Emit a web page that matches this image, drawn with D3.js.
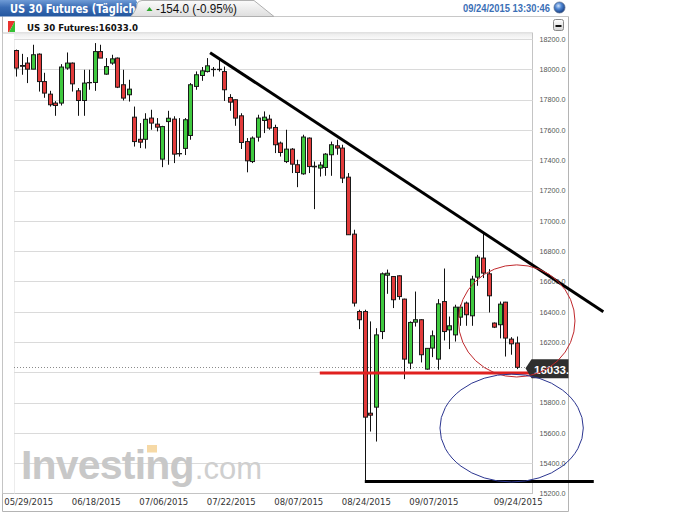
<!DOCTYPE html>
<html>
<head>
<meta charset="utf-8">
<script src="https://cdn.jsdelivr.net/npm/d3@7"></script>
<style>
  body { margin: 0; background: #fff; }
  svg { display: block; }
</style>
</head>
<body>
<div id="chart-container"></div>
<script>
// daily candles, US 30 Futures
const openP = [18124, 18025, 18041, 18001, 18100, 17919, 17836, 17777, 17777, 18008,
  18041, 17858, 17794, 17913, 17913, 18117, 17968, 18041, 18074, 17898,
  17832, 17684, 17538, 17538, 17678, 17638, 17407, 17655, 17671, 17444,
  17478, 17563, 17887, 17959, 17985, 18000, 18000, 17985, 17814, 17799,
  17693, 17523, 17391, 17552, 17662, 17671, 17616, 17513, 17391, 17473,
  17370, 17310, 17546, 17360, 17348, 17352, 17436, 17495, 17480, 17288,
  16912, 16401, 16401, 15730, 15770, 16269, 16641, 16632, 16637, 16483,
  16061, 16331, 16347, 16021, 16160, 16087, 16467, 16280, 16247, 16364,
  16457, 16373, 16628, 16754, 16650, 16325, 16314, 16463, 16219, 16193];
const highP = [18130, 18102, 18080, 18162, 18105, 17977, 17858, 17790, 18034, 18111,
  18045, 17876, 17997, 17997, 18173, 18162, 18074, 18096, 18078, 17997,
  17931, 17754, 17645, 17710, 17733, 17678, 17627, 17726, 17690, 17678,
  17678, 17909, 17986, 18015, 18074, 18015, 18074, 18018, 17836, 17800,
  17710, 17546, 17557, 17700, 17722, 17700, 17634, 17523, 17601, 17480,
  17403, 17568, 17550, 17391, 17389, 17447, 17523, 17535, 17502, 17315,
  16941, 16413, 16413, 16336, 16291, 16659, 16678, 16635, 16640, 16486,
  16336, 16533, 16350, 16160, 16276, 16483, 16685, 16368, 16446, 16446,
  16467, 16637, 16775, 16921, 16681, 16329, 16467, 16465, 16232, 16236];
const lowP = [17952, 17964, 17909, 18001, 17853, 17812, 17754, 17693, 17761, 17997,
  17853, 17693, 17693, 17865, 17858, 18074, 17964, 18030, 17876, 17794,
  17787, 17490, 17480, 17477, 17601, 17590, 17354, 17370, 17381, 17424,
  17434, 17535, 17865, 17924, 17979, 17952, 17985, 17791, 17726, 17627,
  17474, 17320, 17381, 17523, 17579, 17601, 17447, 17424, 17381, 17315,
  17222, 17304, 17315, 17077, 17292, 17297, 17297, 17436, 17249, 16908,
  16434, 16285, 15282, 15609, 15543, 16219, 16518, 16424, 16479, 15955,
  16021, 16302, 16065, 16017, 16100, 16017, 16210, 16153, 16203, 16307,
  16307, 16307, 16571, 16622, 16395, 16292, 16224, 16104, 16116, 16021];
const closeP = [18008, 18020, 18001, 18096, 17919, 17843, 17766, 17761, 18015, 18041,
  17904, 17794, 17909, 17911, 18117, 18074, 18018, 18069, 17882, 17810,
  17869, 17523, 17519, 17670, 17645, 17618, 17622, 17677, 17440, 17442,
  17667, 17898, 17964, 17990, 18023, 17998, 17998, 17865, 17783, 17678,
  17517, 17396, 17546, 17678, 17684, 17612, 17502, 17451, 17473, 17374,
  17319, 17553, 17358, 17356, 17368, 17440, 17502, 17480, 17282, 16908,
  16457, 16347, 15704, 15717, 16247, 16650, 16654, 16479, 16500, 16087,
  16329, 16347, 16116, 16158, 16241, 16452, 16269, 16307, 16430, 16430,
  16380, 16615, 16760, 16655, 16505, 16298, 16450, 16226, 16188, 16033];

const tickIndex = [2, 14, 26, 38, 50, 62, 74, 89];
const tickLabels = ["05/29/2015", "06/18/2015", "07/06/2015", "07/22/2015",
  "08/07/2015", "08/24/2015", "09/07/2015", "09/24/2015"];
const priceTicks = [15200, 15400, 15600, 15800, 16000, 16200, 16400, 16600, 16800,
  17000, 17200, 17400, 17600, 17800, 18000, 18200];
const lastPrice = 16033.0;

// hand drawn annotations, in [candle index, price]
const trendLine = [[34.5, 18110], [104.4, 16400]];
const supportLine = [[54, 15995], [91.5, 15995]];
const bottomLine = [[62, 15280], [102.7, 15280]];
const redRing = [89.0, 16339, 10.36, 370];   // cx, cy, rx (candles), ry (points)
const blueRing = [88.1, 15632, 12.74, 356];

const svgWidth = 697, svgHeight = 514;
const plot = { left: 14, right: 532.5, top: 33, bottom: 493.5, frameLeft: 2.5 };

const svg = d3.select("#chart-container").append("svg")
    .attr("width", svgWidth)
    .attr("height", svgHeight);

const defs = svg.append("defs");
const blueGrad = defs.append("linearGradient").attr("id", "blueTab").attr("x1", 0).attr("y1", 0).attr("x2", 0).attr("y2", 1);
blueGrad.append("stop").attr("offset", "0%").attr("stop-color", "#6f9bd6");
blueGrad.append("stop").attr("offset", "45%").attr("stop-color", "#3a6cb4");
blueGrad.append("stop").attr("offset", "100%").attr("stop-color", "#23579f");
const grayGrad = defs.append("linearGradient").attr("id", "grayTab").attr("x1", 0).attr("y1", 0).attr("x2", 0).attr("y2", 1);
grayGrad.append("stop").attr("offset", "0%").attr("stop-color", "#fbfbfb");
grayGrad.append("stop").attr("offset", "100%").attr("stop-color", "#dedede");
const ballGrad = defs.append("radialGradient").attr("id", "ball").attr("cx", "40%").attr("cy", "35%").attr("r", "65%");
ballGrad.append("stop").attr("offset", "0%").attr("stop-color", "#cfe2fb");
ballGrad.append("stop").attr("offset", "45%").attr("stop-color", "#4f86d2");
ballGrad.append("stop").attr("offset", "100%").attr("stop-color", "#163f86");
const topBand = defs.append("linearGradient").attr("id", "topBand").attr("x1", 0).attr("y1", 0).attr("x2", 0).attr("y2", 1);
topBand.append("stop").attr("offset", "0%").attr("stop-color", "#ececec");
topBand.append("stop").attr("offset", "100%").attr("stop-color", "#fafafa");
const btnGrad = defs.append("linearGradient").attr("id", "btn").attr("x1", 0).attr("y1", 0).attr("x2", 0).attr("y2", 1);
btnGrad.append("stop").attr("offset", "0%").attr("stop-color", "#ffffff");
btnGrad.append("stop").attr("offset", "100%").attr("stop-color", "#d4d4d4");
defs.append("clipPath").attr("id", "panelClip")
    .append("rect").attr("x", 0).attr("y", 0).attr("width", 568.5).attr("height", svgHeight);
defs.append("clipPath").attr("id", "tabClip")
    .append("rect").attr("x", 0).attr("y", 0).attr("width", 138).attr("height", 17);

// ---- panel frame ----
svg.append("path")
    .attr("d", "M2.5,16.5 V511.5 H568.5 V16.5")
    .attr("fill", "none")
    .attr("stroke", "#b4b4b4");
svg.append("line")
    .attr("x1", 270).attr("x2", 568.5).attr("y1", 16.5).attr("y2", 16.5)
    .attr("stroke", "#c8c8c8");

// ---- header tabs ----
svg.append("path")
    .attr("d", "M0,0 H136 Q141,8 139,16.5 H0 Z")
    .attr("fill", "url(#blueTab)");
svg.append("text")
    .attr("x", 10).attr("y", 13)
    .attr("clip-path", "url(#tabClip)")
    .attr("font-family", "'Liberation Sans Narrow', 'DejaVu Sans Condensed', sans-serif")
    .attr("font-weight", "bold")
    .attr("font-size", "12px")
    .attr("fill", "#fff")
    .attr("textLength", 130)
    .attr("lengthAdjust", "spacingAndGlyphs")
    .text("US 30 Futures (Täglich)");
svg.append("path")
    .attr("d", "M131,16.5 Q137,9 137,4 Q138,0.5 142,0.5 H254 L274,16.5 Z")
    .attr("fill", "url(#grayTab)")
    .attr("stroke", "#b0b0b0");
svg.append("path")
    .attr("d", "M146.5,11 L149.5,7 L152.5,11 Z")
    .attr("fill", "#2fa82f");
svg.append("text")
    .attr("x", 156).attr("y", 13)
    .attr("font-family", "'Liberation Sans', Arial, sans-serif")
    .attr("font-size", "12.5px")
    .attr("fill", "#111")
    .attr("textLength", 81)
    .attr("lengthAdjust", "spacingAndGlyphs")
    .text("-154.0 (-0.95%)");

svg.append("text")
    .attr("x", 550).attr("y", 11.5)
    .attr("text-anchor", "end")
    .attr("font-family", "'Liberation Sans', Arial, sans-serif")
    .attr("font-weight", "bold")
    .attr("font-size", "10.5px")
    .attr("fill", "#3b6fb6")
    .attr("textLength", 87)
    .attr("lengthAdjust", "spacingAndGlyphs")
    .text("09/24/2015 13:30:46");
svg.append("circle")
    .attr("cx", 559.5).attr("cy", 7.5).attr("r", 5.5)
    .attr("fill", "url(#ball)")
    .attr("stroke", "#5b6f8f")
    .attr("stroke-width", 0.8);

// minimize button
svg.append("rect")
    .attr("x", 553.5).attr("y", 19.5).attr("width", 10).attr("height", 11).attr("rx", 2)
    .attr("fill", "url(#btn)").attr("stroke", "#8a8a8a");
svg.append("rect")
    .attr("x", 555.5).attr("y", 25).attr("width", 6).attr("height", 2).attr("fill", "#111");

// ---- second row: symbol ----
svg.append("path").attr("d", "M8,21 H15 L9,32 H8 Z").attr("fill", "#e8322e");
svg.append("path").attr("d", "M15,21 V32 H9 Z").attr("fill", "#34c134");
svg.append("text")
    .attr("x", 27).attr("y", 30.5)
    .attr("font-family", "'DejaVu Sans', Tahoma, sans-serif")
    .attr("font-weight", "bold")
    .attr("font-size", "9.5px")
    .attr("fill", "#111")
    .attr("textLength", 111)
    .attr("lengthAdjust", "spacingAndGlyphs")
    .text("US 30 Futures:16033.0");

// ---- plot frame ----
svg.append("rect")
    .attr("x", plot.frameLeft).attr("y", plot.top)
    .attr("width", plot.right - plot.frameLeft).attr("height", plot.bottom - plot.top)
    .attr("fill", "#fff")
    .attr("stroke", "#c4c4c4");
svg.append("rect")
    .attr("x", plot.left).attr("y", plot.top + 0.5)
    .attr("width", plot.right - plot.left - 0.5).attr("height", 5.5)
    .attr("fill", "url(#topBand)");
svg.append("line")
    .attr("x1", plot.left + 0.5).attr("x2", plot.left + 0.5)
    .attr("y1", plot.top + 6).attr("y2", plot.bottom)
    .attr("stroke", "#ececec");

const x = d3.scaleLinear().domain([0, 89]).range([16, 516.7]);
const y = d3.scaleLinear().domain([15200, 18200]).range([493.5, 39]);

// grid
svg.append("g")
    .selectAll("line")
    .data(priceTicks.slice(1))
    .enter()
    .append("line")
    .attr("x1", plot.left).attr("x2", plot.right)
    .attr("y1", d => Math.round(y(d)) + 0.5)
    .attr("y2", d => Math.round(y(d)) + 0.5)
    .attr("stroke", "#dadada");

// y axis (right); the label under the last-price tag is hidden in the original
const yAxis = svg.append("g")
    .attr("transform", `translate(${plot.right},0)`)
    .call(d3.axisRight(y)
        .tickValues(priceTicks.filter(d => Math.abs(y(d) - y(lastPrice)) > 10))
        .tickSize(0).tickPadding(7).tickFormat(d3.format(".1f")));
yAxis.select(".domain").remove();
yAxis.selectAll("text")
    .attr("font-family", "'Liberation Sans', Arial, sans-serif")
    .attr("font-size", "7.2px")
    .attr("fill", "#555");

// x axis labels
svg.append("g")
    .selectAll("text")
    .data(tickIndex)
    .enter()
    .append("text")
    .attr("x", d => x(d) + 1.5)
    .attr("y", 505)
    .attr("text-anchor", "middle")
    .attr("font-family", "'DejaVu Sans', Tahoma, sans-serif")
    .attr("font-size", "8.5px")
    .attr("fill", "#333")
    .text((d, i) => tickLabels[i]);

// watermark
const wm = svg.append("text")
    .attr("x", 21).attr("y", 479)
    .attr("font-family", "'Liberation Sans', Arial, sans-serif");
wm.append("tspan")
    .attr("font-size", "41px")
    .attr("font-weight", "bold")
    .attr("fill", "#c8c8c8")
    .attr("letter-spacing", "-0.8px")
    .text("Investing");
wm.append("tspan")
    .attr("font-size", "31px")
    .attr("fill", "#cfcfcf")
    .attr("dx", 1)
    .text(".com");
svg.append("rect")
    .attr("x", 147).attr("y", 445).attr("width", 10).attr("height", 7.5)
    .attr("fill", "#f6d9a6");

// last price dotted line
svg.append("line")
    .attr("x1", plot.left).attr("x2", plot.right)
    .attr("y1", Math.round(y(lastPrice)) + 0.5).attr("y2", Math.round(y(lastPrice)) + 0.5)
    .attr("stroke", "#8a8a8a")
    .attr("stroke-dasharray", "1,2");

// candles
const idx = d3.range(openP.length);
const candles = svg.append("g");
candles.selectAll(".wick")
    .data(idx)
    .enter()
    .append("line")
    .attr("class", "wick")
    .attr("x1", i => Math.round(x(i)) + 0.5)
    .attr("x2", i => Math.round(x(i)) + 0.5)
    .attr("y1", i => y(highP[i]))
    .attr("y2", i => y(lowP[i]))
    .attr("stroke", "#111");
candles.selectAll(".body")
    .data(idx)
    .enter()
    .append("rect")
    .attr("class", "body")
    .attr("x", i => Math.round(x(i)) - 1.5)
    .attr("width", 4)
    .attr("y", i => y(Math.max(openP[i], closeP[i])))
    .attr("height", i => Math.abs(y(openP[i]) - y(closeP[i])))
    .attr("fill", i => closeP[i] >= openP[i] ? "#3fc93f" : "#e23b3b")
    .attr("stroke", "#1a1a1a");

// ---- annotations ----
const lineGen = d3.line().x(d => x(d[0])).y(d => y(d[1]));
svg.append("path").attr("d", lineGen(supportLine))
    .attr("stroke", "#e0201f").attr("stroke-width", 3).attr("fill", "none");

// last price label
const tag = svg.append("g").attr("clip-path", "url(#panelClip)");
const ty = y(lastPrice);
tag.append("path")
    .attr("d", `M${plot.right - 7},${ty + 1} L${plot.right - 1},${ty - 8} H575 V${ty + 11} H${plot.right - 1} Z`)
    .attr("fill", "#2f2f2f");
tag.append("text")
    .attr("x", plot.right + 1.5).attr("y", ty + 6.5)
    .attr("font-family", "'Liberation Sans', Arial, sans-serif")
    .attr("font-weight", "bold")
    .attr("font-size", "11.5px")
    .attr("fill", "#fff")
    .text(d3.format(".1f")(lastPrice));

svg.append("path").attr("d", lineGen(trendLine))
    .attr("stroke", "#000").attr("stroke-width", 3).attr("fill", "none");
svg.append("path").attr("d", lineGen(bottomLine))
    .attr("stroke", "#000").attr("stroke-width", 3).attr("fill", "none");

[[redRing, "#c0282c"], [blueRing, "#2b3590"]].forEach(([r, c]) => {
    svg.append("ellipse")
        .attr("cx", x(r[0]))
        .attr("cy", y(r[1]))
        .attr("rx", x(r[2]) - x(0))
        .attr("ry", y(0) - y(r[3]))
        .attr("fill", "none")
        .attr("stroke", c)
        .attr("stroke-width", 1);
});
</script>
</body>
</html>
